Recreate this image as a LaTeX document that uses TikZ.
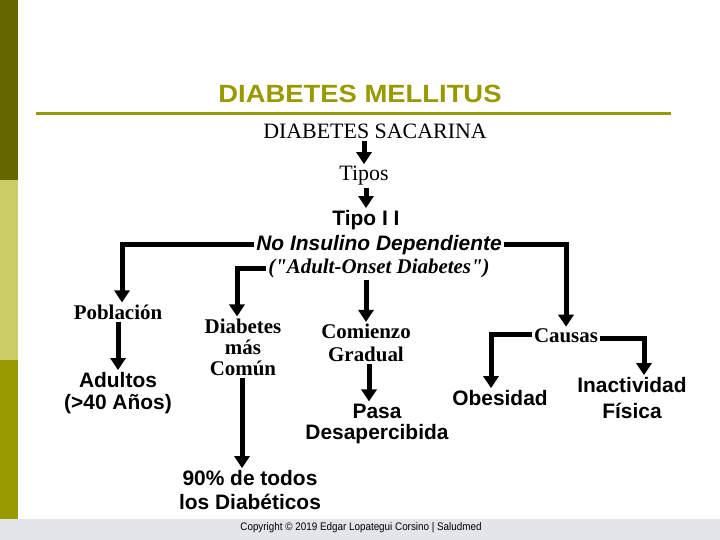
\documentclass[tikz,border=0pt]{standalone}
\usepackage{fontspec}
\setmainfont{Liberation Serif}
\setsansfont{Liberation Sans}
\newfontfamily\titlefont[FakeStretch=1.1]{Liberation Sans}
\newfontfamily\footfont[FakeStretch=0.9]{Liberation Sans}
\usepackage{xcolor}
\usepackage{tikz}
\usetikzlibrary{arrows.meta,calc,positioning}
\definecolor{olivedark}{HTML}{666600}
\definecolor{olivelight}{HTML}{CCCC66}
\definecolor{olivemid}{HTML}{999900}
\definecolor{footgray}{HTML}{E4E5EB}
\newcommand\straightdq{\XeTeXglyph\XeTeXcharglyph"22\relax}

\begin{document}
\begin{tikzpicture}[x=1bp,y=-1bp]
\tikzset{serif/.style = {font=\bfseries\fontsize{21}{22}\selectfont, inner sep=2bp, align=center}}
\tikzset{plain/.style = {font=\fontsize{22}{23}\selectfont, inner sep=2bp, align=center}}
\tikzset{sans/.style = {font=\sffamily\bfseries\fontsize{21}{22}\selectfont, inner sep=2bp, align=center}}
\tikzset{edge/.style = {-{Triangle[width=15bp,length=12bp]}, line width=5bp}}
\useasboundingbox (0,0) rectangle (720,540);
\fill[white] (0,0) rectangle (720,540);
% slide frame
\fill[olivedark] (0,0) rectangle (18,180);
\fill[olivelight] (0,180) rectangle (18,360);
\fill[olivemid] (0,360) rectangle (18,519);
\fill[footgray] (0,519) rectangle (720,540);
\node[font=\titlefont\bfseries\fontsize{25}{26}\selectfont, text=olivemid] (mell) at (360,94) {DIABETES MELLITUS};
\draw[olivemid, line width=3bp] (36,114) -- (671,114);
\node[font=\footfont\fontsize{11}{12}\selectfont] (copy) at (361,528) {Copyright © 2019 Edgar Lopategui Corsino | Saludmed};
% nodes
\node[plain] (sacar) at (375,131) {DIABETES SACARINA};
\node[plain] (tipos) at (364,176) {Tipos};
\node[sans] (tipo) at (366,220) {Tipo I I};
\node[sans, font=\sffamily\bfseries\itshape\fontsize{21}{22}\selectfont] (noins) at (379,245) {No Insulino Dependiente};
\node[serif, font=\bfseries\itshape\fontsize{21}{22}\selectfont] (adult) at (379,268) {(\straightdq Adult-Onset Diabetes\straightdq)};
\node[serif] (pobl) at (118,312) {Población};
\node[sans] (adultos) at (118,393) {Adultos\\(>40 Años)};
\node[serif, font=\bfseries\fontsize{21}{21}\selectfont] (comun) at (243,347) {Diabetes\\más\\Común};
\node[sans, font=\sffamily\bfseries\fontsize{21}{24}\selectfont] (noventa) at (250,490) {90\% de todos\\los Diabéticos};
\node[serif, font=\bfseries\fontsize{21}{23}\selectfont] (comien) at (366,343) {Comienzo\\Gradual};
\node[sans] (pasa) at (377,424) {Pasa\\Desapercibida};
\node[serif] (causas) at (566,336) {Causas};
\node[sans] (obes) at (500,398) {Obesidad};
\node[sans, font=\sffamily\bfseries\fontsize{21}{26}\selectfont] (inact) at (632,398) {Inactividad\\Física};
% connectors
\draw[edge] (tipos.north |- sacar.south) -- (tipos.north);
\draw[edge] (tipo.north |- tipos.south) -- (tipo.north);
\draw[edge] (noins.west) -| ([xshift=4bp]pobl.north);
\draw[edge] (noins.east) -| (causas.north);
\draw[edge] (adult.west) -| ([xshift=-6bp]comun.north);
\draw[edge] (adult.south -| tipo) -- (comien.north);
\draw[edge] (pobl.south -| adultos.north) -- (adultos.north);
\draw[edge] ([xshift=3bp]comien.south) -- ([xshift=3bp]comien.south |- pasa.north);
\draw[edge] ([xshift=-1bp]comun.south) -- ([xshift=-1bp]comun.south |- noventa.north);
\draw[edge] ([yshift=2bp]causas.west) -| ([xshift=-9bp]obes.north);
\draw[edge] ([yshift=-2bp]causas.east) -| ([xshift=12bp]inact.north);
\end{tikzpicture}
\end{document}
